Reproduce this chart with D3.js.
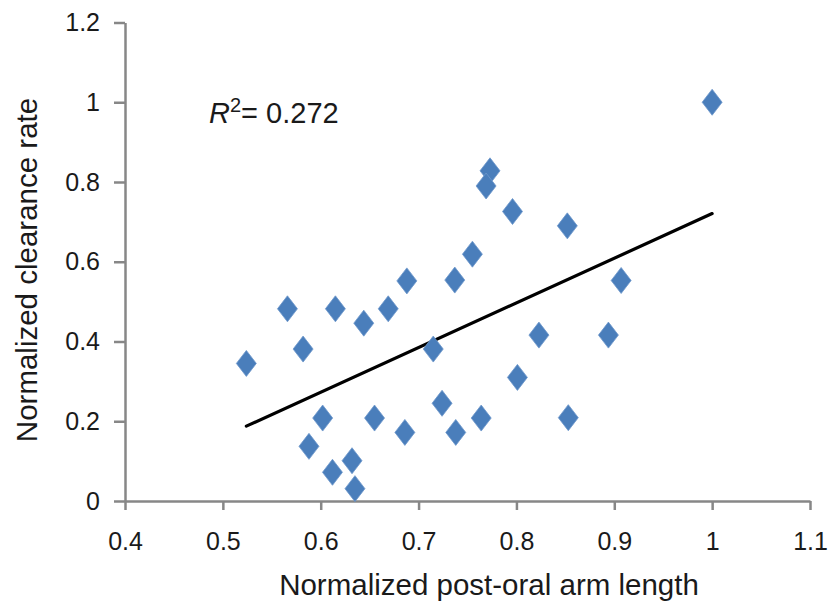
<!DOCTYPE html>
<html>
<head>
<meta charset="utf-8">
<script src="https://cdn.jsdelivr.net/npm/d3@7"></script>
<style>
  body { margin: 0; background: #fff; }
  text { font-family: "Liberation Sans", Arial, sans-serif; fill: #1a1a1a; }
</style>
</head>
<body>
<div id="chart"></div>
<script>
// Normalized post-oral arm length (x) vs normalized clearance rate (y)
const armLength = [0.524, 0.566, 0.582, 0.615, 0.644, 0.669, 0.688, 0.602, 0.588, 0.612,
                   0.632, 0.635, 0.655, 0.686, 0.773, 0.769, 0.796, 0.852, 0.755, 0.737,
                   0.715, 0.823, 0.801, 0.724, 0.764, 0.853, 0.738, 1.0, 0.907, 0.894];
const clearanceRate = [0.345, 0.482, 0.381, 0.482, 0.446, 0.482, 0.552, 0.208, 0.137, 0.072,
                       0.101, 0.031, 0.208, 0.172, 0.828, 0.790, 0.726, 0.690, 0.619, 0.554,
                       0.381, 0.416, 0.310, 0.245, 0.208, 0.209, 0.172, 1.0, 0.553, 0.416];

const xTicks = [0.4, 0.5, 0.6, 0.7, 0.8, 0.9, 1, 1.1];
const xTickLabels = ["0.4", "0.5", "0.6", "0.7", "0.8", "0.9", "1", "1.1"];
const yTicks = [0, 0.2, 0.4, 0.6, 0.8, 1, 1.2];
const yTickLabels = ["0", "0.2", "0.4", "0.6", "0.8", "1", "1.2"];
const rSquaredLabel = "0.272";

const width = 830, height = 607;

const svg = d3.select("#chart")
    .append("svg")
    .attr("width", width)
    .attr("height", height);

const x = d3.scaleLinear().domain([0.4, 1.1]).range([125, 810]);
const y = d3.scaleLinear().domain([0, 1.2]).range([501, 22.5]);

// axes
const axisColor = "#878787";

const xAxis = svg.append("g")
    .attr("transform", `translate(0,${y(0)})`)
    .call(d3.axisBottom(x)
        .tickValues(xTicks)
        .tickFormat((d, i) => xTickLabels[i])
        .tickSize(9)
        .tickPadding(22)
        .tickSizeOuter(0));

const yAxis = svg.append("g")
    .attr("transform", `translate(${x(0.4)},0)`)
    .call(d3.axisLeft(y)
        .tickValues(yTicks)
        .tickFormat((d, i) => yTickLabels[i])
        .tickSize(11)
        .tickPadding(14)
        .tickSizeOuter(0));

[xAxis, yAxis].forEach(g => {
    g.select(".domain").attr("stroke", axisColor).attr("stroke-width", 2.5);
    g.selectAll(".tick line").attr("stroke", axisColor).attr("stroke-width", 2.5);
    g.selectAll(".tick text")
        .attr("fill", "#1a1a1a")
        .style("font-size", "25px")
        .style("font-family", "'Liberation Sans', Arial, sans-serif");
});

// axis titles
svg.append("text")
    .attr("x", 489)
    .attr("y", 595)
    .attr("text-anchor", "middle")
    .style("font-size", "29.5px")
    .text("Normalized post-oral arm length");

svg.append("text")
    .attr("transform", "translate(37,270) rotate(-90)")
    .attr("text-anchor", "middle")
    .style("font-size", "29.5px")
    .text("Normalized clearance rate");

// linear trend line (least squares)
const pts = armLength.map((v, i) => ({ x: v, y: clearanceRate[i] }));
const mx = d3.mean(pts, d => d.x), my = d3.mean(pts, d => d.y);
const slope = d3.sum(pts, d => (d.x - mx) * (d.y - my)) / d3.sum(pts, d => (d.x - mx) ** 2);
const intercept = my - slope * mx;
const [x0, x1] = d3.extent(armLength);

svg.append("line")
    .attr("x1", x(x0)).attr("y1", y(intercept + slope * x0))
    .attr("x2", x(x1)).attr("y2", y(intercept + slope * x1))
    .attr("stroke", "#000")
    .attr("stroke-width", 3.2)
    .attr("stroke-linecap", "round");

// diamond markers
const diamond = "M0,-13L10,0L0,13L-10,0Z";
svg.append("g")
    .selectAll("path")
    .data(pts)
    .join("path")
    .attr("d", diamond)
    .attr("transform", d => `translate(${x(d.x)},${y(d.y)})`)
    .attr("fill", "#4a7ebb")
    .attr("stroke", "#6f98cc")
    .attr("stroke-width", 0.8)
    .attr("stroke-linejoin", "round");

// R squared annotation
const r2 = svg.append("text")
    .attr("x", 209)
    .attr("y", 123)
    .style("font-size", "29px");
r2.append("tspan").style("font-style", "italic").text("R");
r2.append("tspan").attr("dy", -11).style("font-size", "20px").text("2");
r2.append("tspan").attr("dy", 11).text("= " + rSquaredLabel);
</script>
</body>
</html>
